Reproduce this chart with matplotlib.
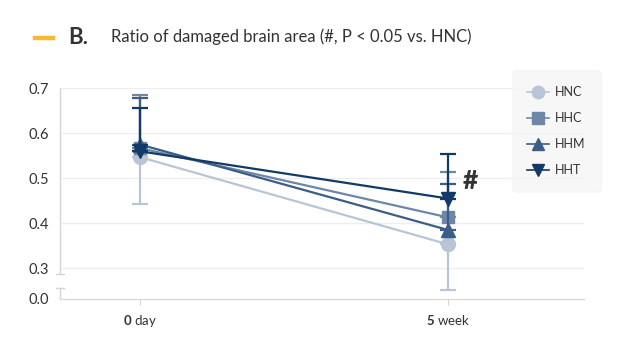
import matplotlib

matplotlib.use("Agg")
import matplotlib.pyplot as plt
import numpy as np
from matplotlib.lines import Line2D

plt.rcParams["font.family"] = ["Lato", "DejaVu Sans"]
plt.rcParams["mathtext.fontset"] = "custom"
plt.rcParams["mathtext.rm"] = "Lato"
plt.rcParams["mathtext.bf"] = "Lato:bold"

# data
timepoints = ["0 day", "5 week"]
groups = ["HNC", "HHC", "HHM", "HHT"]
hnc = [0.547, 0.353]
hhc = [0.567, 0.413]
hhm = [0.575, 0.385]
hht = [0.560, 0.455]
# one-sided error bars: HNC drawn downwards, the others upwards
hnc_err = [0.105, 0.267]
hhc_err = [0.118, 0.100]
hhm_err = [0.103, 0.102]
hht_err = [0.097, 0.100]

colors = ["#b9c5d4", "#6e87a7", "#3c5d88", "#123a69"]
markers = ["o", "s", "^", "v"]

BREAK = 0.3
K = 0.225  # compression below the axis break


def fwd(v):
    v = np.asarray(v, dtype=float)
    return np.where(v >= BREAK, v, BREAK - (BREAK - v) * K)


def inv(v):
    v = np.asarray(v, dtype=float)
    return np.where(v >= BREAK, v, BREAK - (BREAK - v) / K)


fig = plt.figure(figsize=(6.3, 3.5), dpi=100)
ax = fig.add_axes([0.0952, 0.1466, 0.8318, 0.6011])
ax.set_yscale("function", functions=(fwd, inv))

x = np.arange(len(timepoints))
series = [hnc, hhc, hhm, hht]
errs = [hnc_err, hhc_err, hhm_err, hht_err]
handles = []
for i, (name, vals, err) in enumerate(zip(groups, series, errs)):
    err = np.array(err)
    zeros = np.zeros_like(err)
    yerr = [err, zeros] if name == "HNC" else [zeros, err]
    ms = 9 if markers[i] == "s" else 10
    ax.errorbar(x, vals, yerr=yerr, color=colors[i], marker=markers[i],
                markersize=ms, lw=1.6, elinewidth=1.6, capsize=6,
                capthick=1.6, zorder=3 + i)
    handles.append(Line2D([], [], color=colors[i], marker=markers[i],
                          markersize=ms - 1, lw=1.2, label=name))

ax.set_xlim(-0.26, 1.44)
ax.set_ylim(0.0, 0.7)
ax.set_xticks(x)
ax.set_xticklabels([r"$\bf{0}$ day", r"$\bf{5}$ week"], fontsize=9.5,
                   color="#333333")
ax.set_yticks([0.0, 0.3, 0.4, 0.5, 0.6, 0.7])
ax.set_yticklabels(["0.0", "0.3", "0.4", "0.5", "0.6", "0.7"],
                   fontsize=10.5, color="#333333")
ax.tick_params(axis="y", length=0, pad=8)
ax.tick_params(axis="x", length=4, color="#d5d5d5", pad=6)

for yv in [0.3, 0.4, 0.5, 0.6, 0.7]:
    ax.axhline(yv, color="#eeeeee", lw=1, zorder=0)

for s in ["top", "right", "left"]:
    ax.spines[s].set_visible(False)
ax.spines["bottom"].set_color("#d5d5d5")

# broken y axis line
ytr = ax.get_yaxis_transform()
axis_kw = dict(color="#d5d5d5", lw=1, transform=ytr, clip_on=False)
ax.plot([0, 0], [0.244, 0.7], **axis_kw)
ax.plot([0, 0], [0.0, 0.105], **axis_kw)
ax.plot([-0.008, 0.008], [0.244, 0.244], **axis_kw)
ax.plot([-0.008, 0.008], [0.105, 0.105], **axis_kw)

# significance mark
ax.annotate("#", xy=(x[1], hhc[1] + hhc_err[1]), xytext=(10, -6),
            textcoords="offset points", fontsize=19, fontweight="black",
            color="#333333", va="center", ha="left")

# legend
leg = ax.legend(handles=handles, loc="upper left",
                bbox_to_anchor=(0.862, 1.085), frameon=True, fontsize=9,
                handlelength=1.7, handletextpad=0.5, labelspacing=1.12,
                borderpad=1.25, borderaxespad=0)
frame = leg.get_frame()
frame.set_facecolor("#f5f5f5")
frame.set_edgecolor("#f5f5f5")
frame.set_boxstyle("round,pad=0,rounding_size=0.4")
for t in leg.get_texts():
    t.set_color("#333333")

# title block
fig.add_artist(Line2D([35 / 630, 53 / 630], [1 - 38 / 350, 1 - 38 / 350],
                      color="#fbb732", lw=3.2))
fig.text(68 / 630, 1 - 37 / 350, "B.", fontsize=16, fontweight="bold",
         color="#333333", va="center", ha="left")
fig.text(111 / 630, 1 - 37 / 350,
         "Ratio of damaged brain area (#, P < 0.05 vs. HNC)",
         fontsize=12, color="#333333", va="center", ha="left")

fig.savefig("out.png", dpi=100)
